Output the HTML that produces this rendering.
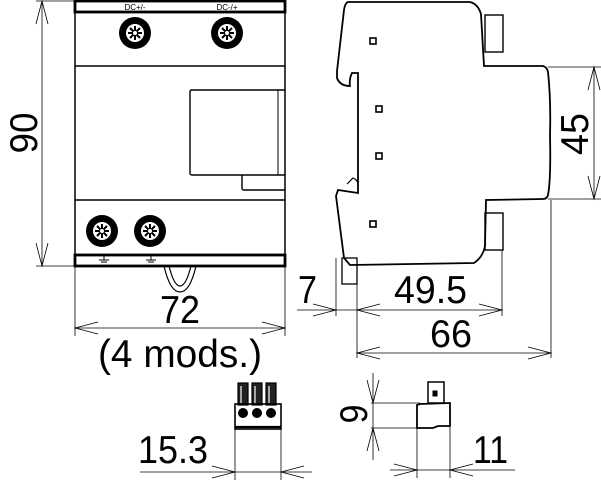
<!DOCTYPE html>
<html><head><style>body{margin:0;background:#fff}svg{display:block}text{font-family:"Liberation Sans",sans-serif;fill:#000}</style></head><body>
<svg width="601" height="480" viewBox="0 0 601 480" xmlns="http://www.w3.org/2000/svg">
<defs>
<g id="term"><circle r="16" fill="#000"/><circle r="9" fill="#fff"/><g stroke="#000" stroke-width="2"><line x1="-7" y1="0" x2="7" y2="0"/><line x1="0" y1="-7" x2="0" y2="7"/><line x1="-5" y1="-5" x2="5" y2="5"/><line x1="-5" y1="5" x2="5" y2="-5"/></g><circle r="2.5" fill="#fff" stroke="#000"/></g>
</defs>
<g fill="none" stroke="#000">
<rect x="75" y="1" width="210" height="265" stroke-width="1.5"/>
<rect x="75" y="1" width="210" height="11" stroke-width="2.8"/>
<rect x="75" y="255" width="210" height="11" stroke-width="2.8"/>
<line x1="75" y1="66" x2="285" y2="66" stroke-width="1.4"/>
<line x1="75" y1="200" x2="285" y2="200" stroke-width="1.4"/>
<path d="M285 90 H192 Q190 90 190 92 V173 Q190 175 192 175 H285" stroke-width="1.4"/>
<line x1="278" y1="90" x2="278" y2="175"/>
<path d="M242 175 V188 Q242 190 244 190 H285" stroke-width="1.4"/>
<path d="M164 266 Q170 292 180 292 Q190 292 196 266 M169 266 Q174 286 180 286 Q186 286 191 266" stroke-width="1.2"/>
<g stroke-width="1"><path d="M104 256 V260 M99 260 H109 M101 262 H107"/><path d="M151 256 V260 M146 260 H156 M148 262 H154"/></g>
<g stroke-width="0.8"><line x1="36" y1="1" x2="75" y2="1"/><line x1="36" y1="266" x2="75" y2="266"/><line x1="42" y1="1" x2="42" y2="266"/><path d="M36 24 L42 1 L48 24 M36 243 L42 266 L48 243"/></g>
<g stroke-width="0.8"><line x1="75" y1="266" x2="75" y2="336"/><line x1="285" y1="266" x2="285" y2="336"/><line x1="75" y1="328" x2="285" y2="328"/><path d="M98 322 L75 328 L98 334 M262 322 L285 328 L262 334"/></g>
<path d="M348 2 H470 Q478 4 481 14 L484 66 H543 Q547 67 548 72 Q551 100 550 135 Q551 180 548 195 Q547 199 543 199 L486 200 L485 246 Q483 257 474 263 L350 265 L344 258 L336 196 L338 190 L358 193 L358 73 L352 73 Q349 79 350 86 Q340 86 337 78 L337 71 L344 10 Q345 3 348 2 Z" stroke-width="1.8"/>
<path d="M347 184 L353 178 Q358 180 358 185" stroke-width="1.2"/>
<rect x="485" y="15" width="18" height="37" stroke-width="1.4"/>
<rect x="485" y="213" width="18" height="37" stroke-width="1.4"/>
<rect x="342" y="258" width="15" height="26" stroke-width="1.3"/>
<g stroke-width="1.6"><rect x="370" y="38" width="6" height="6"/><rect x="376" y="106" width="6" height="6"/><rect x="376" y="153" width="6" height="6"/><rect x="370" y="221" width="6" height="6"/></g>
<g stroke-width="0.8"><line x1="548" y1="67" x2="601" y2="67"/><line x1="548" y1="199" x2="601" y2="199"/><line x1="594" y1="67" x2="594" y2="199"/><path d="M588 90 L594 67 L600 90 M588 176 L594 199 L600 176"/></g>
<g stroke-width="0.8"><line x1="336" y1="258" x2="336" y2="316"/><line x1="357" y1="284" x2="357" y2="358"/><line x1="502" y1="250" x2="502" y2="316"/><line x1="551" y1="200" x2="551" y2="358"/>
<line x1="297" y1="310" x2="502" y2="310"/><path d="M313 304 L336 310 L313 316 M380 304 L357 310 L380 316 M479 304 L502 310 L479 316"/>
<line x1="357" y1="353" x2="551" y2="353"/><path d="M380 347 L357 353 L380 359 M528 347 L551 353 L528 359"/></g>
<g stroke-width="1.2"><rect x="238" y="383" width="10" height="22" fill="#222"/><rect x="252" y="383" width="10" height="22" fill="#222"/><rect x="266" y="383" width="10" height="22" fill="#222"/>
<line x1="241" y1="386" x2="241" y2="403" stroke="#fff"/><line x1="255" y1="386" x2="255" y2="403" stroke="#fff"/><line x1="269" y1="386" x2="269" y2="403" stroke="#fff"/></g>
<rect x="235" y="404" width="46" height="25" stroke-width="1.6"/>
<line x1="235" y1="427" x2="281" y2="427" stroke-width="2.2"/>
<g fill="#000"><circle cx="243" cy="413" r="4.5"/><circle cx="257" cy="413" r="4.5"/><circle cx="271" cy="413" r="4.5"/></g>
<g stroke-width="0.8"><line x1="235" y1="429" x2="235" y2="480"/><line x1="281" y1="429" x2="281" y2="480"/><line x1="140" y1="472" x2="312" y2="472"/><path d="M212 466 L235 472 L212 478 M304 466 L281 472 L304 478"/></g>
<path d="M420 404 L450 403 V426 L438 426 L433 428 H417 V405 Z" stroke-width="1.8"/>
<rect x="428" y="382" width="16" height="21" stroke-width="1.5"/>
<rect x="433" y="391" width="4" height="5" fill="#000"/>
<g stroke-width="0.8"><line x1="371" y1="403" x2="420" y2="403"/><line x1="371" y1="428" x2="417" y2="428"/><line x1="373" y1="373" x2="373" y2="460"/><path d="M367 380 L373 403 L379 380 M367 451 L373 428 L379 451"/>
<line x1="417" y1="428" x2="417" y2="478"/><line x1="450" y1="426" x2="450" y2="478"/><line x1="390" y1="470" x2="515" y2="470"/><path d="M394 464 L417 470 L394 476 M473 464 L450 470 L473 476"/></g>
</g>
<use href="#term" x="135" y="33"/><use href="#term" x="227" y="33"/>
<use href="#term" x="102" y="231"/><use href="#term" x="150" y="231"/>
<text x="135" y="10" font-size="8" text-anchor="middle">DC+/-</text>
<text x="227" y="10" font-size="8" text-anchor="middle">DC-/+</text>
<g font-size="39" lengthAdjust="spacingAndGlyphs">
<text transform="translate(37,133) rotate(-90)" text-anchor="middle" textLength="41" lengthAdjust="spacingAndGlyphs">90</text>
<text x="160" y="323" textLength="40" lengthAdjust="spacingAndGlyphs">72</text>
<text x="98" y="367" textLength="164" lengthAdjust="spacingAndGlyphs">(4 mods.)</text>
<text transform="translate(588,134) rotate(-90)" text-anchor="middle" textLength="42" lengthAdjust="spacingAndGlyphs">45</text>
<text x="298" y="303" textLength="19" lengthAdjust="spacingAndGlyphs">7</text>
<text x="394" y="303" textLength="73" lengthAdjust="spacingAndGlyphs">49.5</text>
<text x="430" y="347" textLength="42" lengthAdjust="spacingAndGlyphs">66</text>
<text x="138" y="463" textLength="70" lengthAdjust="spacingAndGlyphs">15.3</text>
<text transform="translate(367,414) rotate(-90)" text-anchor="middle" textLength="19" lengthAdjust="spacingAndGlyphs">9</text>
<text x="473" y="463" textLength="35" lengthAdjust="spacingAndGlyphs">11</text>
</g>
</svg>
</body></html>
